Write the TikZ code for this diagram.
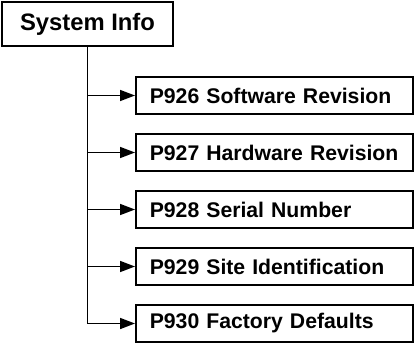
\documentclass[tikz,border=0pt]{standalone}
\usepackage{fontspec}
\setmainfont{Liberation Sans}
\usetikzlibrary{arrows.meta}
\tikzset{
  sysbox/.style={draw,line width=1.6pt,minimum width=171pt,minimum height=44pt,inner sep=0pt,font=\bfseries\fontsize{23.8}{26}\selectfont},
  parbox/.style={draw,line width=1.6pt,text width=249pt,inner xsep=14pt,minimum height=37pt,inner ysep=0pt,align=left,font=\bfseries\fontsize{21.2}{24}\selectfont},
  branch/.style={line width=1.6pt,-{Triangle[length=15pt,width=11pt]}}
}

\begin{document}
\begin{tikzpicture}[x=1pt,y=-1pt]
    \useasboundingbox (0,0) rectangle (414,342);
    \node[sysbox] (sys) at (87.5,24){System Info};
    \node[parbox,anchor=west] (p926) at (135,95.5){P926 Software Revision};
    \node[parbox,anchor=west] (p927) at (135,152.5){P927 Hardware Revision};
    \node[parbox,anchor=west] (p928) at (135,209.5){P928 Serial Number};
    \node[parbox,anchor=west] (p929) at (135,266.5){P929 Site Identification};
    \node[parbox,anchor=west] (p930) at (135,323.5){P930 Factory Defaults};

    \foreach \p in {p926,p927,p928,p929,p930}
      \draw[branch] (sys.south) |- (\p.west);
\end{tikzpicture}
\end{document}
